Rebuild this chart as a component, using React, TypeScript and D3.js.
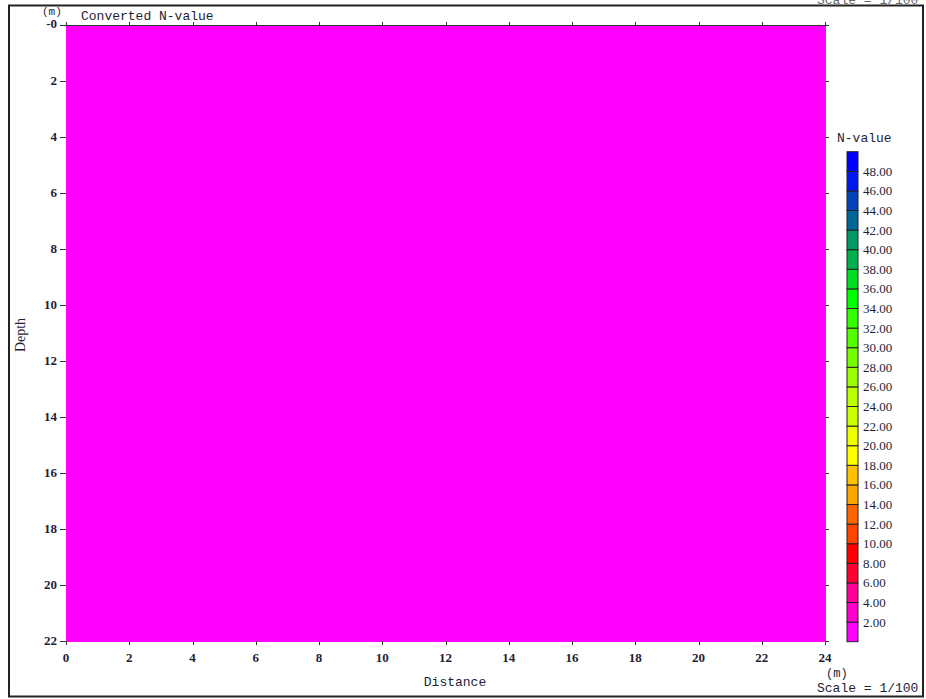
import React from "react";
import * as d3 from "d3";

// Survey section sample grid (distance along line, depth below surface)
const gridDistance = [0, 6, 12, 18, 24];
const gridDepth = [0, 5.5, 11, 16.5, 22];
// Converted N-values at each grid node, rows follow gridDepth
const nValueRow0 = [0.6, 0.7, 0.6, 0.8, 0.7];
const nValueRow1 = [0.9, 1.0, 0.9, 1.1, 1.0];
const nValueRow2 = [1.1, 1.2, 1.2, 1.3, 1.2];
const nValueRow3 = [1.3, 1.4, 1.5, 1.4, 1.5];
const nValueRow4 = [1.6, 1.7, 1.6, 1.7, 1.8];
const nValueRows = [nValueRow0, nValueRow1, nValueRow2, nValueRow3, nValueRow4];

// Axis ticks
const distanceTicks = [0, 2, 4, 6, 8, 10, 12, 14, 16, 18, 20, 22, 24];
const depthTicks = [0, 2, 4, 6, 8, 10, 12, 14, 16, 18, 20, 22];

// Legend class breaks (0..50 step 2) and colours, lowest class first
const legendBreaks = [0, 2, 4, 6, 8, 10, 12, 14, 16, 18, 20, 22, 24, 26, 28, 30, 32, 34, 36, 38, 40, 42, 44, 46, 48, 50];
const legendColors = [
  "#ff00ff", "#ff00cc", "#ff0099", "#ff0033", "#ff0000",
  "#ff4400", "#ff6600", "#ffa500", "#ffc000", "#ffff00",
  "#eeff00", "#ccff00", "#bbff00", "#99ff00", "#77ff00",
  "#55ff00", "#33ff00", "#00ff00", "#00dd22", "#00b04c",
  "#009966", "#006699", "#0044b8", "#0018ee", "#0000ff",
];
const legendLabels = legendBreaks.slice(1, -1);

const MONO = "'Liberation Mono', 'DejaVu Sans Mono', monospace";
const SERIF = "'Liberation Serif', 'DejaVu Serif', serif";
const TEXT = "#1e1e36";
const AXIS = "#333";

export default function App() {
  const W = 926;
  const H = 699;
  const x = d3.scaleLinear().domain([0, 24]).range([66, 825]);
  const y = d3.scaleLinear().domain([0, 22]).range([25, 641]);

  const color = d3
    .scaleThreshold<number, string>()
    .domain(legendBreaks.slice(1, -1))
    .range(legendColors);

  // cells between grid nodes, coloured by mean of corner values
  const cells: { x0: number; x1: number; y0: number; y1: number; v: number }[] = [];
  for (let r = 0; r < gridDepth.length - 1; r++) {
    for (let c = 0; c < gridDistance.length - 1; c++) {
      const v =
        (nValueRows[r][c] + nValueRows[r][c + 1] + nValueRows[r + 1][c] + nValueRows[r + 1][c + 1]) / 4;
      cells.push({ x0: gridDistance[c], x1: gridDistance[c + 1], y0: gridDepth[r], y1: gridDepth[r + 1], v });
    }
  }

  const legendScale = d3.scaleLinear().domain([0, 50]).range([641.7, 151.7]);
  const lx = 847;
  const lw = 11;

  return (
    <svg width={W} height={H} style={{ position: "absolute", left: 0, top: 0, background: "#fff" }}>
      <rect x={0} y={0} width={W} height={H} fill="#fff" />
      {/* outer frame */}
      <rect x={9} y={5.5} width={914} height={691} fill="none" stroke="#222" strokeWidth={2} />
      <text x={817} y={3.5} fontFamily={MONO} fontSize={13} fill="#666">Scale = 1/100</text>

      {/* section cells */}
      {cells.map((c, i) => (
        <rect
          key={i}
          x={x(c.x0)}
          y={y(c.y0)}
          width={x(c.x1) - x(c.x0) + 0.5}
          height={y(c.y1) - y(c.y0) + 0.5}
          fill={color(c.v)}
          shapeRendering="crispEdges"
        />
      ))}

      {/* axis lines */}
      <line x1={x(0)} x2={x(24)} y1={25.5} y2={25.5} stroke={AXIS} strokeWidth={1} />

      {/* distance ticks (bottom + top) */}
      {distanceTicks.map((t) => (
        <g key={"d" + t}>
          <line x1={Math.round(x(t)) + 0.5} x2={Math.round(x(t)) + 0.5} y1={641} y2={645} stroke={AXIS} />
          <line x1={Math.round(x(t)) + 0.5} x2={Math.round(x(t)) + 0.5} y1={22} y2={25} stroke={AXIS} />
          <text x={x(t)} y={662} textAnchor="middle" fontFamily={SERIF} fontSize={13} fontWeight="bold" fill={TEXT}>
            {t}
          </text>
        </g>
      ))}

      {/* depth ticks (left + right) */}
      {depthTicks.map((t) => (
        <g key={"z" + t}>
          <line x1={60} x2={66} y1={Math.round(y(t)) + 0.5} y2={Math.round(y(t)) + 0.5} stroke={AXIS} />
          <line x1={825} x2={829} y1={Math.round(y(t)) + 0.5} y2={Math.round(y(t)) + 0.5} stroke={AXIS} />
          <text x={57} y={y(t) + (t === 0 ? 3 : 4)} textAnchor="end" fontFamily={SERIF} fontSize={13} fontWeight="bold" fill={TEXT}>
            {t === 0 ? "-0" : t}
          </text>
        </g>
      ))}

      {/* titles */}
      <text x={42} y={15} fontFamily={MONO} fontSize={11} fill={TEXT}>(m)</text>
      <text x={81} y={20} fontFamily={MONO} fontSize={13} fill={TEXT}>Converted N-value</text>
      <text
        transform="translate(25,335) rotate(-90)"
        textAnchor="middle"
        fontFamily={SERIF}
        fontSize={14}
        fill={TEXT}
      >
        Depth
      </text>
      <text x={455} y={686} textAnchor="middle" fontFamily={MONO} fontSize={13} fill={TEXT}>Distance</text>
      <text x={826} y={677} fontFamily={MONO} fontSize={12} fill={TEXT}>(m)</text>
      <text x={817} y={692} fontFamily={MONO} fontSize={13} fill={TEXT}>Scale = 1/100</text>

      {/* legend */}
      <text x={837} y={142} fontFamily={MONO} fontSize={13} fill={TEXT}>N-value</text>
      {legendColors.map((c, i) => (
        <rect
          key={"l" + i}
          x={lx}
          y={legendScale(legendBreaks[i + 1])}
          width={lw}
          height={legendScale(legendBreaks[i]) - legendScale(legendBreaks[i + 1])}
          fill={c}
          stroke="#222"
          strokeWidth={1}
        />
      ))}
      {legendLabels.map((v) => (
        <text key={"t" + v} x={863} y={legendScale(v) + 4.5} fontFamily={SERIF} fontSize={13} fill={TEXT}>
          {v.toFixed(2)}
        </text>
      ))}
    </svg>
  );
}
